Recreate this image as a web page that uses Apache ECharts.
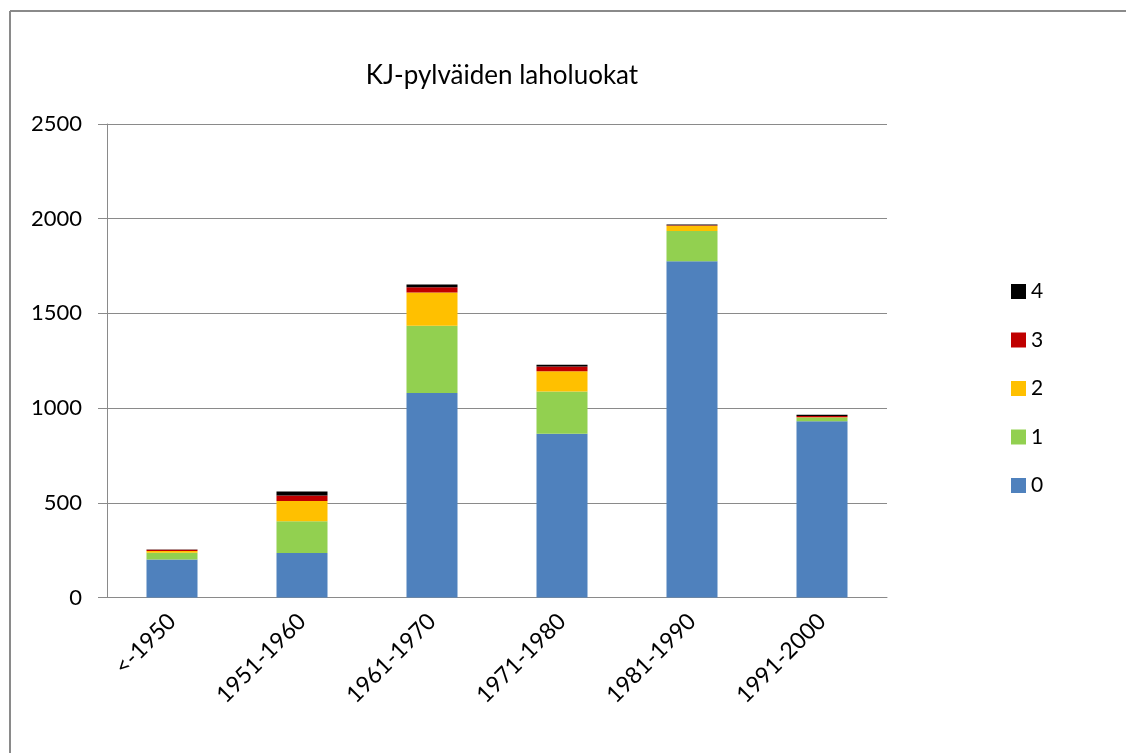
<!DOCTYPE html>
<html>
<head>
<meta charset="utf-8">
<script src="https://cdn.jsdelivr.net/npm/echarts@6/dist/echarts.min.js"></script>
<style>
html,body{margin:0;padding:0;background:#fff;}
#chart{width:1126px;height:753px;}
</style>
</head>
<body>
<div id="chart"></div>
<script>
var categories = ['<-1950', '1951-1960', '1961-1970', '1971-1980', '1981-1990', '1991-2000'];
var class0 = [200, 235, 1080, 865, 1775, 930];
var class1 = [36, 168, 355, 222, 160, 20];
var class2 = [10, 107, 176, 108, 28, 2];
var class3 = [6, 29, 27, 25, 3, 6];
var class4 = [1, 21, 14, 9, 4, 7];
var yTicks = [0, 500, 1000, 1500, 2000, 2500];
var seriesNames = ['0', '1', '2', '3', '4'];
var seriesColors = ['#4F81BD', '#92D050', '#FFC000', '#C00000', '#000000'];
var seriesData = [class0, class1, class2, class3, class4];

var FONT = 'Lato, "Open Sans", sans-serif';
var chart = echarts.init(document.getElementById('chart'));
var series = seriesNames.map(function (n, i) {
  return {
    name: n,
    type: 'bar',
    stack: 'total',
    data: seriesData[i],
    barWidth: 51,
    itemStyle: { color: seriesColors[i] },
    emphasis: { disabled: true }
  };
});
chart.setOption({
  animation: false,
  backgroundColor: '#fff',
  title: {
    text: 'KJ-pylväiden laholuokat',
    left: 497, top: 58, textAlign: 'center',
    textStyle: { fontFamily: FONT, fontSize: 26, fontWeight: 'normal', color: '#000' }
  },
  graphic: [
    { type: 'line', shape: { x1: 10, y1: 11, x2: 1126, y2: 11 }, style: { stroke: '#8a8a8a', lineWidth: 2 } },
    { type: 'line', shape: { x1: 10, y1: 11, x2: 10, y2: 753 }, style: { stroke: '#8a8a8a', lineWidth: 2 } }
  ],
  legend: {
    orient: 'vertical',
    left: 1006, top: 276,
    data: ['4', '3', '2', '1', '0'],
    itemWidth: 15, itemHeight: 15, itemGap: 27.5,
    icon: 'rect',
    textStyle: { fontFamily: FONT, fontSize: 21, color: '#000' }
  },
  grid: { left: 107, right: 239, top: 124, bottom: 155.5, containLabel: false },
  xAxis: {
    type: 'category',
    data: categories,
    axisLine: { lineStyle: { color: '#8a8a8a', width: 1 } },
    axisTick: { show: false },
    axisLabel: { rotate: 45, interval: 0, margin: 20, fontFamily: FONT, fontSize: 23, color: '#000' }
  },
  yAxis: {
    type: 'value',
    min: yTicks[0], max: yTicks[yTicks.length - 1], interval: 500,
    axisLine: { show: true, lineStyle: { color: '#8a8a8a', width: 1 } },
    axisTick: { show: true, length: 9, lineStyle: { color: '#8a8a8a' } },
    splitLine: { lineStyle: { color: '#8a8a8a', width: 1 } },
    axisLabel: { margin: 25, fontFamily: FONT, fontSize: 22, color: '#000', formatter: function (v) { return String(v); } }
  },
  series: series
});
</script>
</body>
</html>
